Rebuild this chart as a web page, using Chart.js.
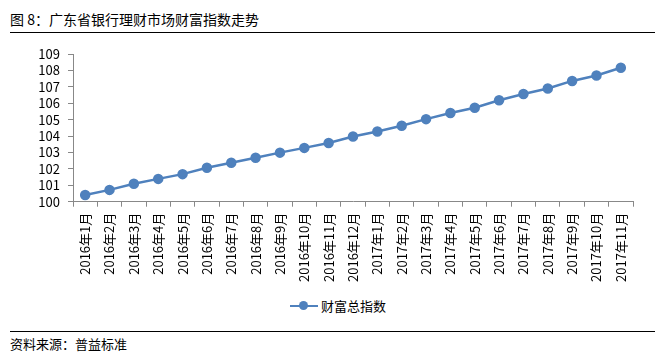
<!DOCTYPE html>
<html>
<head>
<meta charset="utf-8">
<script src="https://cdn.jsdelivr.net/npm/chart.js@4"></script>
<style>
  body { margin: 0; width: 655px; height: 354px; background: #fff; position: relative; overflow: hidden;
         font-family: "Noto Sans CJK SC", "Noto Sans", sans-serif; }
  #title { position: absolute; left: 10px; top: 9px; font-size: 14px; color: #000; }
  #topline { position: absolute; left: 10px; top: 32px; width: 645px; height: 1px; background: #000; }
  #wrap { position: absolute; left: 0; top: 34px; width: 655px; height: 254px; }
  #legend { position: absolute; left: 290px; top: 296px; font-size: 13px; color: #000; display: flex; align-items: center; }
  #legend .mk { position: relative; width: 28px; height: 12px; margin-right: 3px; }
  #legend .mk .ln { position: absolute; left: 0; top: 5px; width: 28px; height: 2px; background: #4F81BD; }
  #legend .mk .dt { position: absolute; left: 9px; top: 1px; width: 9px; height: 9px; border-radius: 50%; background: #4F81BD; }
  #botline { position: absolute; left: 10px; top: 331px; width: 645px; height: 1px; background: #000; }
  #source { position: absolute; left: 10px; top: 334px; font-size: 13px; color: #000; }
</style>
</head>
<body>
<div id="title">图 8：广东省银行理财市场财富指数走势</div>
<div id="topline"></div>
<div id="wrap"><canvas id="IndexChart"></canvas></div>
<div id="legend"><span class="mk"><span class="ln"></span><span class="dt"></span></span>财富总指数</div>
<div id="botline"></div>
<div id="source">资料来源：普益标准</div>
<script>
const months = ['2016年1月', '2016年2月', '2016年3月', '2016年4月', '2016年5月', '2016年6月',
                '2016年7月', '2016年8月', '2016年9月', '2016年10月', '2016年11月', '2016年12月',
                '2017年1月', '2017年2月', '2017年3月', '2017年4月', '2017年5月', '2017年6月',
                '2017年7月', '2017年8月', '2017年9月', '2017年10月', '2017年11月'];
const wealthIndex = [100.41, 100.72, 101.09, 101.39, 101.68, 102.07, 102.37, 102.68, 102.99, 103.28,
                     103.58, 103.97, 104.28, 104.63, 105.03, 105.40, 105.73, 106.18, 106.56, 106.90,
                     107.36, 107.69, 108.16];
const yMin = 100;
const yMax = 109;
const yStep = 1;

Chart.defaults.font.family = '"Noto Sans CJK SC", "Noto Sans", sans-serif';
Chart.defaults.color = '#000';

const ctx_Index = document.getElementById('IndexChart').getContext('2d');
new Chart(ctx_Index, {
    type: 'line',
    data: {
        labels: months,
        datasets: [{
            label: '财富总指数',
            data: wealthIndex,
            borderColor: '#4F81BD',
            backgroundColor: '#4F81BD',
            borderWidth: 2.5,
            pointRadius: 4,
            pointHoverRadius: 4,
            tension: 0
        }]
    },
    options: {
        responsive: true,
        maintainAspectRatio: false,
        animation: false,
        layout: { padding: { left: 10, right: 22, top: 20, bottom: 0 } },
        plugins: { legend: { display: false }, tooltip: { enabled: false } },
        scales: {
            x: {
                offset: true,
                grid: { display: true, offset: true, drawOnChartArea: false, color: '#888', tickLength: 5 },
                border: { color: '#888', width: 1 },
                ticks: { minRotation: 90, maxRotation: 90, autoSkip: false, font: { size: 13 }, padding: 6 }
            },
            y: {
                min: yMin,
                max: yMax,
                grid: { display: true, drawOnChartArea: false, color: '#888', tickLength: 5 },
                border: { color: '#888', width: 1 },
                ticks: { stepSize: yStep, autoSkip: false, font: { size: 13 }, padding: 8 },
                afterFit: (scale) => { scale.width = 63; }
            }
        }
    }
});
</script>
</body>
</html>
